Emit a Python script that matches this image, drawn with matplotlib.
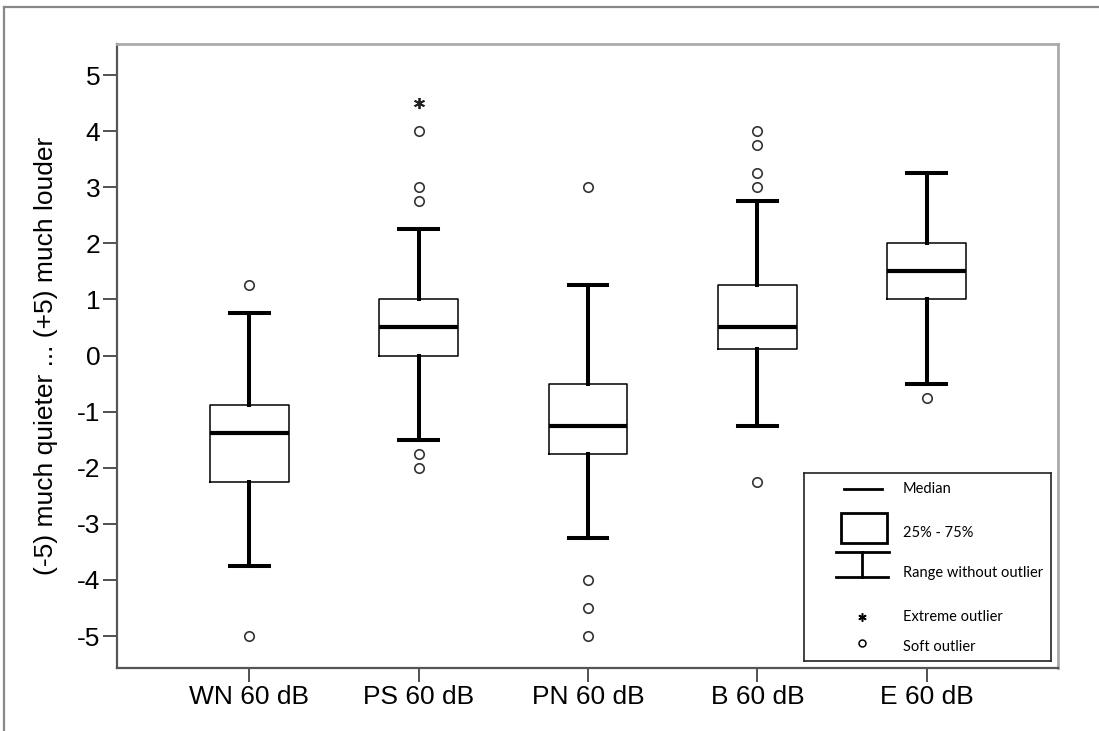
import matplotlib
matplotlib.use("Agg")
import matplotlib.pyplot as plt
from matplotlib.lines import Line2D
from matplotlib.patches import Rectangle

plt.rcParams['font.family'] = ['Liberation Sans', 'DejaVu Sans']

labels = ["WN 60 dB", "PS 60 dB", "PN 60 dB", "B 60 dB", "E 60 dB"]
whislo = [-3.75, -1.5, -3.25, -1.25, -0.5]
q1 = [-2.25, 0.0, -1.75, 0.125, 1.0]
med = [-1.375, 0.5, -1.25, 0.5, 1.5]
q3 = [-0.875, 1.0, -0.5, 1.25, 2.0]
whishi = [0.75, 2.25, 1.25, 2.75, 3.25]
soft_outliers = [
    [1.25, -5.0],
    [2.75, 3.0, 4.0, -1.75, -2.0],
    [3.0, -4.0, -4.5, -5.0],
    [3.0, 3.25, 3.75, 4.0, -2.25],
    [-0.75],
]
extreme_outliers = [[], [4.5], [], [], []]
yticks = [5, 4, 3, 2, 1, 0, -1, -2, -3, -4, -5]

W, H = 1099, 731
fig = plt.figure(figsize=(W / 100, H / 100), dpi=100)
ax = fig.add_axes([117 / W, (H - 668) / H, (1058 - 117) / W, (668 - 44) / H])

stats = []
for i in range(len(labels)):
    stats.append(dict(label=labels[i], whislo=whislo[i], q1=q1[i], med=med[i],
                      q3=q3[i], whishi=whishi[i], fliers=soft_outliers[i]))

pos = list(range(1, len(labels) + 1))
ax.bxp(stats, positions=pos, widths=0.466, capwidths=0.23,
       boxprops=dict(color='black', linewidth=1.1),
       whiskerprops=dict(color='black', linewidth=2.9),
       capprops=dict(color='black', linewidth=2.9),
       medianprops=dict(color='black', linewidth=3.0),
       flierprops=dict(marker='o', markersize=6.8, markerfacecolor='white',
                       markeredgecolor='#333333', markeredgewidth=1.2, linestyle='none'))

for p, ext in zip(pos, extreme_outliers):
    if ext:
        ax.plot([p] * len(ext), ext, linestyle='none', marker=(6, 2, 0),
                markersize=8, color='#222222', markeredgewidth=1.3)

ax.set_xlim(0.221, 5.773)
ax.set_ylim(-5.57, 5.553)
ax.set_yticks(yticks)
ax.set_yticklabels([str(t) for t in yticks])
ax.set_xticks(pos)
ax.set_xticklabels(labels)
ax.tick_params(axis='both', labelsize=19, length=10, width=1.2, color='#333333', pad=2)

ax.set_ylabel("(-5) much quieter ... (+5) much louder", fontsize=19)
ax.yaxis.set_label_coords(-0.063, 0.5)

for s in ['left', 'bottom']:
    ax.spines[s].set_color('#555555')
    ax.spines[s].set_linewidth(1.6)
for s in ['top', 'right']:
    ax.spines[s].set_color('#aaaaaa')
    ax.spines[s].set_linewidth(2.0)

# outer frame
fig.add_artist(Line2D([4 / W, 1], [1 - 7 / H, 1 - 7 / H], color='#888888', linewidth=1.6))
fig.add_artist(Line2D([4 / W, 4 / W], [0, 1 - 7 / H], color='#888888', linewidth=1.6))

# legend key box
lx0, ly0, lx1, ly1 = 804, 473, 1051, 661
lg = fig.add_axes([lx0 / W, (H - ly1) / H, (lx1 - lx0) / W, (ly1 - ly0) / H])
lg.set_xlim(lx0, lx1)
lg.set_ylim(ly1, ly0)
lg.set_xticks([])
lg.set_yticks([])
for s in lg.spines.values():
    s.set_linewidth(1.2)
    s.set_color('#222222')

lg.plot([844, 882], [489, 489], color='black', linewidth=2)
lg.add_patch(Rectangle((841, 513), 46, 30, fill=False, edgecolor='black', linewidth=2))
lg.plot([836, 889], [552, 552], color='black', linewidth=2)
lg.plot([862, 862], [552, 577], color='black', linewidth=2)
lg.plot([836, 888], [577, 577], color='black', linewidth=2)
lg.plot([862], [617], marker=(6, 2, 0), markersize=6, color='black', markeredgewidth=1.1)
lg.plot([862], [643], marker='o', markersize=5, markerfacecolor='white',
        markeredgecolor='black', markeredgewidth=1.1)

key_text = [("Median", 489), ("25% - 75%", 533), ("Range without outlier", 573),
            ("Extreme outlier", 617), ("Soft outlier", 647)]
for t, y in key_text:
    lg.text(903, y, t, fontsize=10.5, family=['Lato', 'DejaVu Sans'], va='center', ha='left')

fig.savefig("out.png", dpi=100)
